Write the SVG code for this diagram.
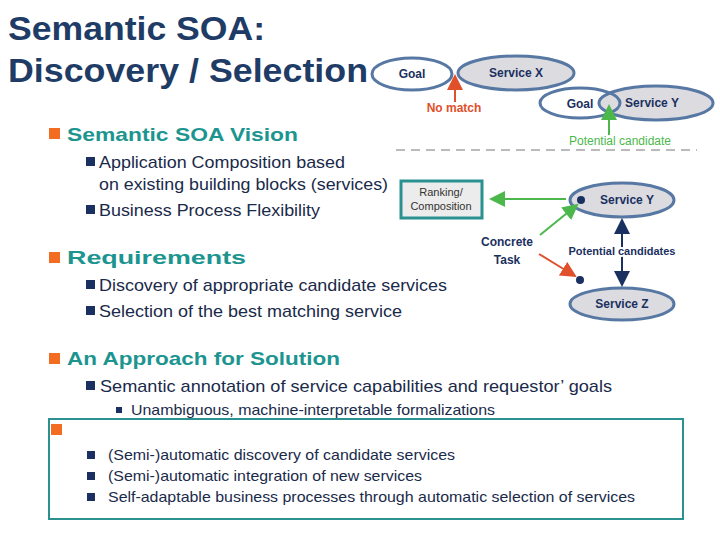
<svg xmlns="http://www.w3.org/2000/svg" width="720" height="540" viewBox="0 0 720 540">
<defs>
<style>
text{font-family:"Liberation Sans",Arial,sans-serif}
.h{font-size:19px;font-weight:bold;fill:#1c9590}
.b{font-size:17px;fill:#1a2a4a}
.s{font-size:15px;fill:#1a2a4a}
.ob{fill:#f26d21}
.nb{fill:#1a3060}
.el{stroke:#5878a4;stroke-width:3}
.lab{font-size:12px;font-weight:bold;fill:#1a3060;text-anchor:middle}
</style>
<marker id="ar" markerWidth="8" markerHeight="8" refX="7" refY="4" orient="auto"><path d="M0,0L8,4L0,8z" fill="#e0502a"/></marker>
<marker id="ag" markerWidth="8" markerHeight="8" refX="7" refY="4" orient="auto"><path d="M0,0L8,4L0,8z" fill="#4cb84c"/></marker>
<marker id="an" markerWidth="8" markerHeight="8" refX="7" refY="4" orient="auto-start-reverse"><path d="M0,0L8,4L0,8z" fill="#1a3060"/></marker>
</defs>
<rect width="720" height="540" fill="#fff"/>
<text x="8" y="40" font-size="33" font-weight="bold" fill="#1f3c66" textLength="257" lengthAdjust="spacingAndGlyphs">Semantic SOA:</text>
<text x="8" y="82" font-size="33" font-weight="bold" fill="#1f3c66" textLength="360" lengthAdjust="spacingAndGlyphs">Discovery / Selection</text>

<rect class="ob" x="49" y="128" width="11" height="11"/>
<text class="h" x="67" y="141" textLength="231" lengthAdjust="spacingAndGlyphs">Semantic SOA Vision</text>
<rect class="nb" x="86" y="157" width="9" height="9"/>
<text class="b" x="99" y="168" textLength="246" lengthAdjust="spacingAndGlyphs">Application Composition based</text>
<text class="b" x="99" y="190" textLength="289" lengthAdjust="spacingAndGlyphs">on existing building blocks (services)</text>
<rect class="nb" x="86" y="205" width="9" height="9"/>
<text class="b" x="99" y="216" textLength="221" lengthAdjust="spacingAndGlyphs">Business Process Flexibility</text>
<rect class="ob" x="49" y="252" width="11" height="11"/>
<text class="h" x="67" y="264" textLength="179" lengthAdjust="spacingAndGlyphs">Requirements</text>
<rect class="nb" x="86" y="280" width="9" height="9"/>
<text class="b" x="99" y="291" textLength="348" lengthAdjust="spacingAndGlyphs">Discovery of appropriate candidate services</text>
<rect class="nb" x="86" y="306" width="9" height="9"/>
<text class="b" x="99" y="317" textLength="303" lengthAdjust="spacingAndGlyphs">Selection of the best matching service</text>
<rect class="ob" x="49" y="353" width="11" height="11"/>
<text class="h" x="67" y="365" textLength="273" lengthAdjust="spacingAndGlyphs">An Approach for Solution</text>
<rect class="nb" x="86" y="381" width="9" height="9"/>
<text class="b" x="100" y="392" textLength="512" lengthAdjust="spacingAndGlyphs">Semantic annotation of service capabilities  and requestor’ goals</text>
<rect class="nb" x="116" y="407" width="6" height="6"/>
<text class="s" x="131" y="415" textLength="364" lengthAdjust="spacingAndGlyphs">Unambiguous, machine-interpretable formalizations</text>

<g id="box"><rect x="49" y="419" width="634" height="100" fill="none" stroke="#2a9090" stroke-width="2"/>
<rect class="ob" x="51" y="424" width="11" height="11"/>
<rect class="nb" x="87" y="451" width="8" height="8"/>
<text class="s" x="108" y="460" textLength="347" lengthAdjust="spacingAndGlyphs">(Semi-)automatic discovery of candidate services</text>
<rect class="nb" x="87" y="472" width="8" height="8"/>
<text class="s" x="108" y="481" textLength="314" lengthAdjust="spacingAndGlyphs">(Semi-)automatic integration of new services</text>
<rect class="nb" x="87" y="493" width="8" height="8"/>
<text class="s" x="108" y="502" textLength="527" lengthAdjust="spacingAndGlyphs">Self-adaptable business processes through automatic selection of services</text></g>

<g id="goal1"><ellipse class="el" cx="412" cy="74" rx="40" ry="16" fill="#fff"/><text class="lab" x="412" y="78">Goal</text></g>
<g id="servicex"><ellipse class="el" cx="516" cy="73" rx="58" ry="17" fill="#dcdce0"/><text class="lab" x="516" y="77">Service X</text></g>
<g id="servicey1"><ellipse class="el" cx="656" cy="103" rx="57" ry="17" fill="#dcdce0"/><text class="lab" x="652" y="107">Service Y</text></g>
<g id="goal2"><ellipse class="el" cx="580" cy="103" rx="40" ry="15" fill="none"/><text class="lab" x="580" y="108">Goal</text></g>
<g id="ranking"><rect x="401" y="181" width="81" height="37" fill="#ececec" stroke="#2a9090" stroke-width="3"/>
<text x="441" y="196" font-size="11" fill="#333" text-anchor="middle">Ranking/</text>
<text x="441" y="210" font-size="11" fill="#333" text-anchor="middle">Composition</text></g>
<g id="servicey2"><ellipse class="el" cx="622" cy="200" rx="52" ry="17" fill="#dcdce0"/><circle cx="581" cy="200" r="4" fill="#1a3060"/><text class="lab" x="627" y="204">Service Y</text></g>
<g id="servicez"><ellipse class="el" cx="622" cy="304" rx="52" ry="16" fill="#dcdce0"/><text class="lab" x="622" y="308">Service Z</text></g>
<circle cx="580" cy="280" r="4" fill="#1a3060"/>
<g id="task"><text class="lab" x="507" y="246" font-size="13">Concrete</text><text class="lab" x="507" y="264" font-size="13">Task</text></g>

<g id="connectors">
<line x1="455" y1="102" x2="455" y2="76" stroke="#e0502a" stroke-width="2" marker-end="url(#ar)"/>
<line x1="609" y1="135" x2="609" y2="106" stroke="#4cb84c" stroke-width="2" marker-end="url(#ag)"/>
<line x1="396" y1="150" x2="697" y2="150" stroke="#bbb" stroke-width="2" stroke-dasharray="9,6"/>
<line x1="566" y1="199" x2="491" y2="199" stroke="#4cb84c" stroke-width="2" marker-end="url(#ag)"/>
<line x1="540" y1="235" x2="577" y2="205" stroke="#4cb84c" stroke-width="2" marker-end="url(#ag)"/>
<line x1="539" y1="254" x2="575" y2="276" stroke="#e0502a" stroke-width="2" marker-end="url(#ar)"/>
<line x1="622" y1="220" x2="622" y2="285" stroke="#1a3060" stroke-width="2" marker-start="url(#an)" marker-end="url(#an)"/>
</g>
<text x="454" y="112" font-size="12" font-weight="bold" fill="#e0502a" text-anchor="middle">No match</text>
<text x="620" y="145" font-size="12" fill="#4cb84c" text-anchor="middle">Potential candidate</text>
<text x="622" y="255" font-size="11" font-weight="bold" fill="#1a3060" text-anchor="middle" style="paint-order:stroke" stroke="#fff" stroke-width="4">Potential candidates</text>
</svg>
